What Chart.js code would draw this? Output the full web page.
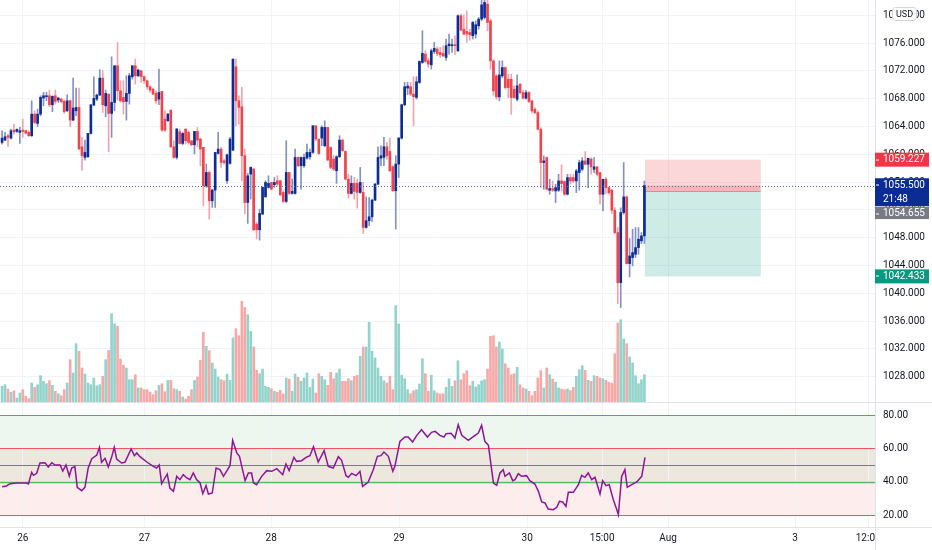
<!DOCTYPE html>
<html>
<head>
<meta charset="utf-8">
<title>Price chart</title>
<script src="https://cdn.jsdelivr.net/npm/chart.js@4.4.1/dist/chart.umd.min.js"></script>
<style>
  html, body { margin:0; padding:0; background:#ffffff; overflow:hidden; }
  #pricePane { position:absolute; left:0; top:0; }
  #rsiPane { position:absolute; left:0; top:402px; }
</style>
</head>
<body>
<canvas id="pricePane" width="932" height="402"></canvas>
<canvas id="rsiPane" width="932" height="148"></canvas>
<script>
// ---------------- DATA ----------------
const barOpen = [
1061.71,1062.04,1062.67,1062.33,1063.48,1063.29,1063.15,1063.48,1063.39,1063.15,
1062.67,1065.78,1064.44,1065.78,1068.09,1068.28,1068.42,1067.13,1068.42,1067.80,
1067.94,1067.61,1066.26,1067.70,1064.92,1066.26,1066.74,1061.08,1059.55,1059.65,
1063.00,1067.08,1067.94,1068.52,1070.96,1066.98,1068.66,1065.88,1067.46,1072.74,
1069.14,1068.18,1067.61,1068.76,1071.16,1072.74,1071.30,1072.02,1071.16,1070.58,
1069.72,1069.38,1068.76,1067.94,1069.05,1065.06,1064.82,1066.36,1061.08,1059.55,
1063.24,1061.56,1063.63,1063.15,1061.95,1061.37,1063.29,1062.19,1060.99,1055.47,
1057.39,1053.31,1054.85,1060.12,1060.75,1059.07,1056.19,1058.69,1060.60,1072.59,
1067.70,1066.84,1059.79,1053.07,1057.15,1057.87,1049.96,1049.14,1051.40,1053.89,
1055.23,1055.95,1055.62,1056.19,1056.19,1054.51,1053.22,1057.39,1054.37,1054.37,
1059.55,1058.35,1058.35,1059.45,1059.65,1060.27,1064.11,1062.19,1062.33,1061.23,
1063.87,1060.99,1059.31,1057.63,1059.65,1062.04,1060.41,1056.43,1054.37,1055.81,
1055.81,1054.51,1054.51,1049.48,1050.44,1051.01,1053.41,1055.71,1059.45,1059.55,
1061.08,1060.41,1058.21,1054.75,1058.59,1062.33,1067.13,1069.53,1069.72,1068.66,
1068.18,1070.34,1073.22,1074.42,1073.46,1072.88,1074.80,1075.14,1074.66,1074.51,
1073.94,1075.62,1075.62,1075.76,1074.90,1079.93,1078.01,1077.68,1077.53,1077.06,
1077.29,1078.49,1079.45,1079.69,1081.61,1079.21,1073.44,1071.28,1068.26,1071.28,
1072.48,1070.80,1070.80,1069.36,1067.92,1070.08,1068.88,1068.07,1068.88,1067.68,
1066.48,1066.00,1063.61,1058.81,1059.53,1054.83,1055.07,1054.73,1054.83,1056.17,
1056.08,1054.25,1056.65,1056.65,1056.17,1057.37,1057.85,1059.05,1058.57,1059.29,
1057.85,1058.19,1057.37,1054.25,1056.41,1055.21,1054.83,1051.95,1048.74,1041.54,
1051.62,1053.87,1044.28,1045.14,1045.62,1046.58,1047.54,1048.26
];
const barHigh = [
1063.39,1063.15,1062.91,1063.63,1064.35,1063.67,1063.87,1065.06,1063.48,1063.39,
1067.70,1066.26,1066.50,1068.42,1068.90,1068.90,1069.24,1068.42,1069.24,1068.18,
1068.09,1067.80,1068.57,1067.80,1070.96,1069.53,1069.53,1062.43,1062.04,1063.00,
1067.13,1071.16,1068.66,1072.16,1072.02,1069.24,1068.66,1074.03,1072.74,1076.10,
1070.58,1070.58,1071.30,1071.64,1072.74,1073.70,1072.26,1072.02,1071.30,1070.68,
1069.86,1069.53,1069.14,1072.26,1069.05,1066.26,1065.88,1066.36,1061.95,1063.72,
1063.63,1063.15,1063.63,1063.39,1061.95,1063.29,1063.87,1062.33,1060.99,1058.59,
1057.63,1054.99,1060.27,1063.15,1060.99,1059.31,1060.03,1062.43,1073.70,1073.70,
1068.42,1069.62,1060.75,1057.25,1058.21,1058.01,1050.20,1052.12,1055.33,1056.19,
1056.91,1055.95,1056.67,1056.91,1056.29,1054.75,1061.95,1057.39,1056.43,1060.75,
1059.65,1059.65,1060.03,1061.47,1060.75,1064.11,1064.11,1062.19,1064.11,1064.82,
1063.87,1061.10,1059.79,1059.79,1062.67,1062.19,1060.51,1057.15,1056.91,1056.67,
1056.43,1058.11,1055.95,1053.89,1053.79,1053.55,1055.81,1061.08,1061.23,1062.43,
1061.71,1062.33,1058.35,1059.79,1062.43,1067.22,1070.34,1070.34,1070.34,1071.16,
1071.16,1073.46,1077.77,1074.90,1073.84,1075.14,1076.10,1075.47,1075.38,1075.62,
1076.58,1077.29,1076.58,1077.06,1080.08,1080.17,1080.08,1080.65,1078.01,1079.12,
1079.21,1079.69,1082.60,1082.60,1082.40,1079.45,1073.60,1071.50,1073.44,1073.44,
1072.60,1071.52,1071.52,1069.84,1071.42,1070.18,1069.22,1069.22,1069.03,1067.78,
1066.72,1066.24,1063.85,1059.77,1059.63,1056.41,1056.17,1055.69,1057.13,1058.47,
1056.17,1057.13,1057.13,1057.13,1057.85,1059.15,1059.53,1060.39,1059.43,1059.53,
1059.53,1058.19,1057.37,1056.41,1056.65,1055.31,1054.97,1052.34,1049.46,1052.30,
1058.81,1054.01,1047.88,1049.22,1049.46,1049.46,1048.74,1056.17
];
const barLow = [
1061.47,1061.95,1061.13,1062.19,1062.91,1063.15,1061.56,1062.43,1062.91,1062.57,
1062.57,1064.35,1063.96,1065.54,1066.98,1067.70,1066.84,1066.12,1067.22,1067.46,
1067.46,1065.88,1066.12,1063.96,1064.82,1065.54,1060.75,1057.73,1059.17,1059.55,
1062.91,1066.98,1067.70,1068.42,1066.02,1065.40,1060.36,1062.43,1066.26,1067.80,
1067.46,1065.78,1064.92,1067.22,1070.82,1070.10,1071.16,1070.34,1070.20,1069.38,
1068.90,1068.57,1067.32,1067.13,1063.29,1063.29,1064.73,1060.99,1059.41,1059.31,
1061.47,1061.37,1061.47,1061.47,1061.23,1060.03,1061.08,1058.35,1052.59,1055.23,
1050.68,1052.35,1052.35,1060.03,1058.11,1058.59,1055.81,1058.59,1060.51,1064.11,
1064.35,1056.19,1051.40,1050.05,1053.55,1049.00,1047.80,1047.65,1051.30,1053.79,
1055.14,1054.85,1055.23,1055.47,1054.03,1053.07,1053.07,1054.18,1054.27,1054.27,
1058.21,1054.99,1058.11,1059.31,1059.31,1060.12,1061.95,1059.93,1061.23,1061.08,
1059.07,1057.90,1057.63,1055.81,1059.55,1060.41,1056.29,1053.70,1054.27,1053.55,
1052.26,1054.37,1048.61,1049.38,1049.72,1050.34,1053.31,1055.62,1058.35,1058.35,
1059.31,1057.53,1054.66,1049.24,1056.67,1062.19,1066.98,1068.57,1068.42,1064.11,
1067.94,1070.20,1073.07,1073.22,1072.50,1072.26,1074.51,1074.18,1073.94,1074.03,
1073.55,1074.42,1074.66,1074.32,1074.75,1077.77,1077.20,1076.10,1076.43,1076.58,
1076.72,1078.01,1079.20,1079.45,1077.77,1072.26,1068.50,1067.90,1067.68,1071.04,
1069.40,1068.16,1065.76,1068.07,1067.68,1068.64,1067.92,1067.92,1067.44,1066.00,
1065.86,1063.46,1055.21,1054.97,1054.83,1054.25,1054.64,1053.05,1054.64,1054.73,
1054.11,1054.15,1055.69,1055.93,1054.49,1054.83,1057.61,1058.47,1055.21,1057.13,
1057.37,1056.89,1052.82,1051.86,1054.35,1054.25,1051.47,1048.59,1038.52,1037.95,
1051.38,1044.18,1042.36,1043.94,1045.14,1045.62,1047.16,1047.16
];
const barClose = [
1062.33,1062.52,1062.43,1063.39,1063.24,1063.58,1063.39,1063.29,1063.05,1062.67,
1065.78,1064.58,1065.78,1068.18,1068.42,1068.42,1067.13,1068.33,1067.61,1068.09,
1067.56,1066.12,1067.70,1064.92,1066.65,1066.74,1060.75,1059.79,1060.27,1063.00,
1067.13,1068.04,1068.52,1070.96,1067.13,1068.76,1065.88,1067.46,1072.74,1069.14,
1067.70,1067.56,1068.76,1071.30,1072.74,1071.30,1072.12,1071.16,1070.58,1069.72,
1069.24,1068.66,1067.70,1068.90,1063.48,1063.48,1065.78,1061.08,1059.55,1063.63,
1061.56,1063.00,1061.95,1061.71,1061.37,1063.29,1062.04,1060.75,1055.47,1057.39,
1053.31,1054.85,1060.27,1060.75,1058.83,1058.83,1059.93,1062.19,1073.70,1067.70,
1066.74,1059.79,1053.07,1056.91,1058.11,1049.14,1049.14,1051.49,1055.23,1055.95,
1055.81,1054.99,1055.95,1055.71,1054.18,1053.22,1057.39,1054.37,1054.66,1059.55,
1058.35,1059.55,1059.55,1060.27,1060.27,1064.11,1062.19,1060.12,1063.87,1063.87,
1059.17,1058.11,1057.87,1059.65,1062.04,1060.51,1056.43,1054.37,1055.81,1054.66,
1054.51,1055.95,1049.48,1050.44,1051.01,1053.41,1055.71,1059.55,1059.79,1061.08,
1059.79,1057.63,1054.75,1058.59,1062.33,1067.13,1069.72,1069.81,1068.66,1068.28,
1070.44,1073.36,1074.51,1073.36,1072.98,1074.90,1075.23,1074.51,1074.32,1074.18,
1075.62,1075.86,1075.76,1075.62,1079.93,1077.87,1077.29,1077.29,1077.20,1078.97,
1078.64,1079.45,1081.50,1081.85,1078.97,1073.44,1069.12,1068.26,1071.42,1072.48,
1069.60,1069.60,1068.16,1068.16,1069.84,1068.88,1068.07,1068.88,1067.59,1066.24,
1066.00,1063.61,1058.81,1059.05,1054.97,1055.07,1054.83,1055.21,1056.17,1055.79,
1054.25,1056.65,1056.17,1056.17,1057.61,1058.81,1059.05,1058.57,1059.43,1058.19,
1058.19,1057.13,1054.25,1056.41,1055.21,1054.49,1051.95,1048.74,1041.54,1051.62,
1053.87,1044.28,1045.38,1045.86,1046.58,1047.78,1048.26,1055.50
];
const barVolume = [
15.7,17.3,13,9.7,11.3,4,9,12.3,5.7,3.3,
19,14.7,17.3,26.3,20.7,18.3,21.3,16.7,10.7,8.3,
6.3,12.3,19,42.3,29,58.3,50.7,34,28,19,
17.3,24,16.3,17.3,25.7,42.3,51.7,88.3,78.3,75.7,
43,36.7,34,22.3,22.3,27.3,14,14,12.3,12.3,
10,7.3,11.3,16.7,18.3,10.3,21.7,21.7,13.3,12.3,
10.7,5,3,5.7,12.3,21.7,25,41.7,69.7,55.7,
51.3,39,33,25,22.3,21.3,28,21.7,64,73.3,
66.3,100.7,94.7,87.3,70.7,55,31.7,28.3,33,15.7,
14.7,13.3,10.7,9.7,11.7,8,24,23,10.7,28,
24.7,20.7,24,29,14.7,23,9,28.3,25.7,22.3,
16.7,29.7,23.3,29,33,20.7,20.7,23.3,21.3,25.7,
26.7,45.7,55,55,79.7,50.7,44,34,25.7,21.3,
19,25.7,12.3,96.3,78,26.7,23.3,12.3,8.3,11.3,
12.3,18,43.3,28.3,10.7,26.7,11.3,9,8,8.3,
14.7,23.3,15.7,21.3,41.3,22.3,28.3,31.3,16.3,20.7,
15,17.3,21.3,22.3,33,65.7,66.3,55,60,53,
38.3,34,27.3,28.3,34.7,17.3,14,13,10.7,6.3,
10.7,24,31.3,14,34,27.3,23,19.7,14,13,
12.3,13,11.3,14.7,25.7,32.3,36.3,31.7,21.7,20.7,
26.3,25.7,24,23.3,21.7,19.7,19,48.3,79,82.3,
63,58.3,45,39,26.3,18.3,22.3,27.3
];
// RSI(14) samples: bar position and value
const rsiBar = [
0,1.5,2.7,4.9,8.3,8.9,10,10.6,11.7,12.8,14.5,15.6,16.8,17.9,19.6,20.5,21.6,22.7,23.5,24.6,
25.4,26.9,28,29.1,30.3,32,32.9,33.6,34.8,35.9,37,37.9,38.7,40.4,41.5,43.6,44.7,45.5,46.6,48.9,
51.1,52.2,53.1,53.9,55,55.8,56.7,57.9,59,60.1,61.2,62.4,63.5,64.6,65.7,66.9,67.8,68.9,69.7,71,
72.3,73.6,74.8,77,77.9,79.3,80.2,82.1,83.2,84.3,84.9,86,87.7,89.4,91.1,92.8,94.8,95.9,97,98.6,
99.5,101.2,102.7,104,105.2,106.8,108.8,110.2,111.9,113.6,114.7,116.2,117,118.1,119.6,120.9,121.8,123.7,125.4,126.8,
128,129,130.5,132,132.7,134.4,136.1,137.2,138.7,140.1,141.7,143.7,145.1,146.3,147.9,149.3,150,151.7,153,154.1,
155.3,157.5,159.8,160.9,162,163.1,164.3,166,167.1,168.2,169.3,169.9,171.4,172.5,173.3,174.4,175.5,177.2,178.3,180,
181.2,182.3,183.4,184.5,186.2,187.4,188.3,189.4,190.5,191.3,193,194.7,195.8,196.9,198,199.2,200.3,202,202.9,204,
205.1,206.5,207.6,208.2,209.3,210.4,211.2,212.7,214.4,216.1,217.2
];
const rsiValue = [
37,37.4,38.8,39.2,39.2,38.6,45.6,43.8,45,51.2,51.4,48.8,51.4,50,50,46.4,50,43.4,48.2,49,
36.6,34.6,36.6,48.2,53.8,56,60.6,51.6,54,48.8,54.6,60.6,53.6,51.2,51.6,59.6,55.6,57.2,55,51.8,
49.2,48.2,50,38.8,42.2,44.6,36.2,34.2,43.2,41.2,44.2,42.2,41.2,45.2,41.2,39.2,32.8,37.6,32.6,33.2,
48.2,47.2,43.2,49.6,64.8,57.2,55.2,40.6,45.2,45.2,39.4,38.2,43.2,46.6,46.2,47.8,44.2,50.6,46.6,54.6,
52.2,52.6,54.6,55.6,61,51.8,58.6,49.2,48.2,55,52.8,43.6,42.6,45,43.6,46.2,37.2,39.8,47.2,55.2,
55.6,57.8,55.2,46.2,49.2,64.2,66.8,66.8,63.8,67.8,71.2,66.8,69.6,70.2,67.8,66.8,68.8,69,66.2,74.2,
67.8,64.8,67.8,69.2,73.8,64.2,61.8,39.2,37.8,45.2,47.2,43.2,45.2,40.6,41.2,44.8,43.2,43.6,40.6,38.6,
34.2,27.8,27.2,23.6,23.2,24.6,28.2,27.8,25.2,33.6,33.6,38.2,43.8,42.6,45.2,41.2,42.6,32.6,40.6,37.6,
38.2,29.2,23.6,20.2,43.2,47.2,36.6,38.2,39.8,43.2,54.6
];
const timeTickBar   = [7.0, 48.1, 90.9, 134.1, 177.4, 202.7, 225.0, 267.9, 292.6];
const timeTickLabel = ['26', '27', '28', '29', '30', '15:00', 'Aug', '3', '12:00'];
const priceTicks = [1028,1032,1036,1040,1044,1048,1052,1056,1060,1064,1068,1072,1076,1080];
const rsiTicks = [20, 40, 60, 80];
const rsiLevels = [80, 60, 50, 40, 20];
const lastPrice = 1055.5;
const barCountdown = '21:48';
const entryPrice = 1054.655;
const stopPrice = 1059.227;
const targetPrice = 1042.433;
const positionStartBar = 217.2;
const positionEndBar = 256.3;
const currencyLabel = 'USD';

// ---------------- STYLE ----------------
const UP = '#0e2c96', UP_WICK = '#8391c6';
const DN = '#f0434b', DN_WICK = '#f5a3a8';
const VOL_UP = '#92d3cb', VOL_DN = '#f7a9a8';
const GRID = '#f0f3fa', BORDER = '#e0e3eb', TEXT = '#131722';
const AXIS_W = 57;

Chart.defaults.font.family = 'Roboto, "Noto Sans", sans-serif';
Chart.defaults.font.size = 10;
Chart.defaults.color = TEXT;

const idx = barOpen.map((_, i) => i);
const isUp = i => barClose[i] >= barOpen[i];

function zeroPad(s) { s.paddingTop = 0; s.paddingBottom = 0; s.paddingLeft = 0; s.paddingRight = 0; }

const xRange = { min: -0.7, max: 294.9 };

const pricePlugin = {
  id: 'pricePaneDecor',
  beforeDatasetsDraw(chart) {
    const { ctx, scales: { x, y } } = chart;
    const x0 = x.getPixelForValue(positionStartBar), x1 = x.getPixelForValue(positionEndBar);
    const yS = y.getPixelForValue(stopPrice), yE = y.getPixelForValue(entryPrice);
    const yT = y.getPixelForValue(targetPrice), yL = y.getPixelForValue(lastPrice);
    ctx.save();
    ctx.fillStyle = 'rgba(242,54,69,0.2)';
    ctx.fillRect(x0, yS, x1 - x0, yE - yS);
    ctx.fillStyle = 'rgba(8,153,129,0.2)';
    ctx.fillRect(x0, yE, x1 - x0, yT - yE);
    ctx.fillStyle = 'rgba(242,54,69,0.22)';
    ctx.fillRect(x0, yL, x1 - x0, yE - yL);
    ctx.strokeStyle = 'rgba(120,123,134,0.55)';
    ctx.lineWidth = 1;
    ctx.beginPath(); ctx.moveTo(x0, Math.round(yE) + 0.5); ctx.lineTo(x1, Math.round(yE) + 0.5); ctx.stroke();
    ctx.restore();
  },
  afterDatasetsDraw(chart) {
    const { ctx, chartArea: a, scales: { y } } = chart;
    const yL = Math.round(y.getPixelForValue(lastPrice)) + 0.5;
    ctx.save();
    ctx.strokeStyle = '#5b6a93';
    ctx.lineWidth = 1;
    ctx.setLineDash([1, 2]);
    ctx.beginPath(); ctx.moveTo(a.left, yL); ctx.lineTo(a.right, yL); ctx.stroke();
    ctx.restore();
  },
  afterDraw(chart) {
    const { ctx, scales: { y } } = chart;
    const left = y.left, w = 54;
    function tag(top, h, bg, lines) {
      ctx.fillStyle = bg;
      ctx.fillRect(left, top, w, h);
      ctx.fillStyle = '#ffffff';
      ctx.fillRect(left + 1, Math.round(top + 7) - 0.5, 3, 1);
      ctx.font = '10px Roboto, "Noto Sans", sans-serif';
      ctx.textAlign = 'left';
      ctx.textBaseline = 'middle';
      lines.forEach((t, k) => ctx.fillText(t, left + 8, top + 7.3 + k * 13.5));
    }
    ctx.save();
    const yS = y.getPixelForValue(stopPrice);
    const yL = y.getPixelForValue(lastPrice);
    const yT = y.getPixelForValue(targetPrice);
    tag(yS - 7, 14, '#f23645', [stopPrice.toFixed(3)]);
    tag(yL - 7.3, 27.7, '#0b2c94', [lastPrice.toFixed(3), barCountdown]);
    tag(yL - 7.3 + 28.3, 12.5, '#787b86', [entryPrice.toFixed(3)]);
    tag(yT - 7, 14, '#089981', [targetPrice.toFixed(3)]);
    // currency badge
    ctx.beginPath();
    if (ctx.roundRect) ctx.roundRect(892.5, 7.5, 24, 13, 3); else ctx.rect(892.5, 7.5, 24, 13);
    ctx.fillStyle = '#ffffff'; ctx.fill();
    ctx.strokeStyle = '#d1d4dc'; ctx.lineWidth = 1; ctx.stroke();
    ctx.fillStyle = TEXT;
    ctx.font = '9px Roboto, "Noto Sans", sans-serif';
    ctx.textAlign = 'center'; ctx.textBaseline = 'middle';
    ctx.fillText(currencyLabel, 904.5, 14.3);
    ctx.restore();
  }
};

new Chart(document.getElementById('pricePane'), {
  type: 'bar',
  data: {
    datasets: [
      {
        label: 'Body',
        data: idx.map(i => ({ x: i, y: [barOpen[i], barClose[i]] })),
        backgroundColor: idx.map(i => isUp(i) ? UP : DN),
        barThickness: 2, grouped: false, minBarLength: 1, order: 1, yAxisID: 'y'
      },
      {
        label: 'Wick',
        data: idx.map(i => ({ x: i, y: [barLow[i], barHigh[i]] })),
        backgroundColor: idx.map(i => isUp(i) ? UP_WICK : DN_WICK),
        barThickness: 1, grouped: false, order: 2, yAxisID: 'y'
      },
      {
        label: 'Volume',
        data: idx.map(i => ({ x: i, y: barVolume[i] })),
        backgroundColor: idx.map(i => isUp(i) ? VOL_UP : VOL_DN),
        barThickness: 2, grouped: false, order: 3, yAxisID: 'vol'
      }
    ]
  },
  options: {
    responsive: false, animation: false, devicePixelRatio: 1,
    layout: { padding: 0 },
    plugins: { legend: { display: false }, tooltip: { enabled: false } },
    scales: {
      x: {
        type: 'linear', min: xRange.min, max: xRange.max, offset: false,
        grid: { color: GRID, drawTicks: false, offset: false },
        border: { display: false },
        ticks: { display: false },
        afterBuildTicks: s => { s.ticks = timeTickBar.map(v => ({ value: v })); },
        afterFit: s => { s.height = 0; zeroPad(s); }
      },
      y: {
        type: 'linear', position: 'right', min: 1024.36, max: 1082.2,
        grid: { color: GRID, drawTicks: false },
        border: { display: true, color: BORDER },
        ticks: { padding: 8, callback: v => Number(v).toFixed(3), autoSkip: false },
        afterBuildTicks: s => { s.ticks = priceTicks.map(v => ({ value: v })); },
        afterFit: s => { s.width = AXIS_W; zeroPad(s); }
      },
      vol: {
        type: 'linear', position: 'left', display: false, min: 0, max: 402
      }
    }
  },
  plugins: [pricePlugin]
});

const rsiPlugin = {
  id: 'rsiDecor',
  beforeDraw(chart) {
    const { ctx, chartArea: a, scales: { y } } = chart;
    const py = v => y.getPixelForValue(v);
    ctx.save();
    ctx.fillStyle = '#edf7ef';
    ctx.fillRect(a.left, py(80), a.right - a.left, py(60) - py(80));
    ctx.fillStyle = '#eee7de';
    ctx.fillRect(a.left, py(60), a.right - a.left, py(40) - py(60));
    ctx.fillStyle = '#fdeded';
    ctx.fillRect(a.left, py(40), a.right - a.left, py(20) - py(40));
    ctx.restore();
  },
  beforeDatasetsDraw(chart) {
    const { ctx, chartArea: a, scales: { y } } = chart;
    const colors = { 80: '#4caf50', 60: '#f7525f', 50: '#787b86', 40: '#5cb85c', 20: '#f7525f' };
    ctx.save();
    rsiLevels.forEach(v => {
      const yy = Math.round(y.getPixelForValue(v)) + 0.5;
      ctx.strokeStyle = colors[v];
      ctx.lineWidth = v === 40 ? 1.6 : 1.2;
      ctx.beginPath(); ctx.moveTo(a.left, yy); ctx.lineTo(a.right, yy); ctx.stroke();
    });
    ctx.restore();
  },
  afterDraw(chart) {
    const { ctx, chartArea: a, scales: { y } } = chart;
    ctx.save();
    ctx.fillStyle = '#ffffff';
    ctx.fillRect(y.left, a.bottom + 1, chart.width - y.left, chart.height - a.bottom);
    ctx.strokeStyle = BORDER; ctx.lineWidth = 1;
    ctx.beginPath(); ctx.moveTo(0, 0.5); ctx.lineTo(chart.width, 0.5); ctx.stroke();
    ctx.beginPath(); ctx.moveTo(0, Math.round(a.bottom) + 0.5); ctx.lineTo(chart.width, Math.round(a.bottom) + 0.5); ctx.stroke();
    ctx.beginPath(); ctx.moveTo(Math.round(y.left) + 0.5, a.bottom); ctx.lineTo(Math.round(y.left) + 0.5, chart.height); ctx.stroke();
    ctx.restore();
  }
};

new Chart(document.getElementById('rsiPane'), {
  type: 'line',
  data: {
    datasets: [{
      label: 'RSI',
      data: rsiBar.map((b, k) => ({ x: b, y: rsiValue[k] })),
      borderColor: '#8e1599', borderWidth: 1.5, pointRadius: 0, tension: 0, fill: false
    }]
  },
  options: {
    responsive: false, animation: false, devicePixelRatio: 1,
    layout: { padding: { top: 1, left: 0, right: 0, bottom: 0 } },
    plugins: { legend: { display: false }, tooltip: { enabled: false } },
    scales: {
      x: {
        type: 'linear', min: xRange.min, max: xRange.max, offset: false,
        grid: { color: GRID, drawTicks: false },
        border: { display: false },
        ticks: {
          padding: 5, autoSkip: false, maxRotation: 0,
          callback: v => { const k = timeTickBar.indexOf(v); return k >= 0 ? timeTickLabel[k] : ''; }
        },
        afterBuildTicks: s => { s.ticks = timeTickBar.map(v => ({ value: v })); },
        afterFit: s => { s.height = 23; zeroPad(s); }
      },
      y: {
        type: 'linear', position: 'right', min: 12.8, max: 87.2,
        grid: { display: false, drawTicks: false },
        border: { display: true, color: BORDER },
        ticks: { padding: 8, callback: v => Number(v).toFixed(2), autoSkip: false },
        afterBuildTicks: s => { s.ticks = rsiTicks.map(v => ({ value: v })); },
        afterFit: s => { s.width = AXIS_W; zeroPad(s); }
      }
    }
  },
  plugins: [rsiPlugin]
});
</script>
</body>
</html>
